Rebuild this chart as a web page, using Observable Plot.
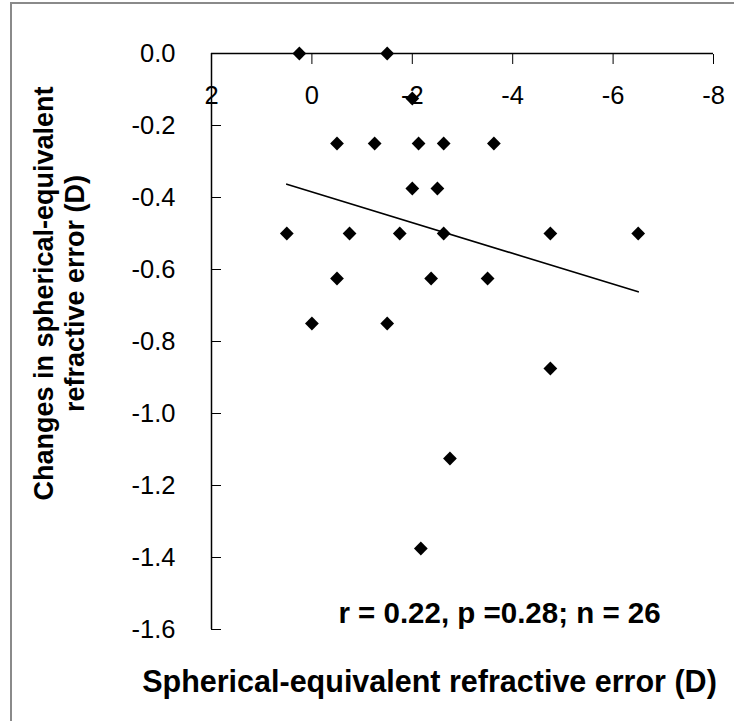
<!DOCTYPE html>
<html><head><meta charset="utf-8">
<script src="https://cdn.jsdelivr.net/npm/d3@7"></script>
<script src="https://cdn.jsdelivr.net/npm/@observablehq/plot@0.6"></script>
<style>
html,body{margin:0;padding:0;background:#fff;}
#wrap{position:relative;width:734px;height:721px;overflow:hidden;background:#fff;}
#wrap svg{position:absolute;left:0;top:0;}
#border{position:absolute;left:10px;top:2px;width:800px;height:800px;border-left:2px solid #8a8a8a;border-top:2px solid #8a8a8a;pointer-events:none;}
</style></head><body><div id="wrap"><div id="border"></div></div>
<script>
// Spherical-equivalent refractive error (D) for each subject
const refraction = [0.25, -1.5, -2.0, -0.5, -1.25, -2.125, -2.625, -3.625, -2.0, -2.5,
  0.5, -0.75, -1.75, -2.625, -4.75, -6.5, -0.5, -2.375, -3.5, 0, -1.5, -4.75, -2.75, -2.17];
// Change in spherical-equivalent refractive error (D)
const change = [0, 0, -0.125, -0.25, -0.25, -0.25, -0.25, -0.25, -0.375, -0.375,
  -0.5, -0.5, -0.5, -0.5, -0.5, -0.5, -0.625, -0.625, -0.625, -0.75, -0.75, -0.875, -1.125, -1.375];
// regression line end points as drawn
const trendX = [0.5, -6.5];
const trendY = [-0.363, -0.662];
const xTicks = [2, 0, -2, -4, -6, -8];
const yTicks = [0, -0.2, -0.4, -0.6, -0.8, -1.0, -1.2, -1.4, -1.6];
const xTitle = ["Spherical-equivalent refractive error (D)"];
const yTitle = ["Changes in spherical-equivalent\nrefractive error (D)"];
const statText = ["r = 0.22, p =0.28; n = 26"];

const points = refraction.map((x, i) => ({x, y: change[i]}));
const trend = trendX.map((x, i) => ({x, y: trendY[i]}));

const chart = Plot.plot({
  width: 734,
  height: 721,
  marginLeft: 211,
  marginRight: 21,
  marginTop: 53,
  marginBottom: 92,
  style: {fontFamily: "'Liberation Sans', Arial, sans-serif", background: "transparent", color: "#000"},
  x: {domain: [2, -8], axis: null},
  y: {domain: [-1.6, 0], axis: null},
  marks: [
    Plot.ruleY([0], {stroke: "#000", strokeWidth: 1.5}),
    Plot.ruleX([2], {stroke: "#000", strokeWidth: 1.5}),
    Plot.axisX(xTicks, {anchor: "top", tickSize: -10, tickPadding: -32, lineAnchor: "middle",
      tickFormat: d => String(d), fontSize: 25.5, stroke: "#000", fill: "#000", label: null}),
    Plot.axisY(yTicks, {anchor: "left", tickSize: -10, tickPadding: 46,
      tickFormat: d => d.toFixed(1), fontSize: 25.5, stroke: "#000", fill: "#000", label: null}),
    Plot.line(trend, {x: "x", y: "y", stroke: "#000", strokeWidth: 1.6}),
    Plot.dot(points, {x: "x", y: "y", symbol: "diamond2", r: 6.2, fill: "#000", stroke: "none"}),
    Plot.text(statText, {frameAnchor: "bottom", dx: 37, dy: -16, lineAnchor: "middle",
      fontSize: 29.5, fontWeight: "bold", fill: "#000"}),
    Plot.text(xTitle, {frameAnchor: "bottom", dx: -33, dy: 53, lineAnchor: "middle",
      fontSize: 30.5, fontWeight: "bold", fill: "#000"}),
    Plot.text(yTitle, {frameAnchor: "left", dx: -153, dy: -48, rotate: -90, lineAnchor: "middle",
      textAnchor: "middle", lineHeight: 1.15, fontSize: 27, fontWeight: "bold", fill: "#000"})
  ]
});
document.getElementById("wrap").insertBefore(chart, document.getElementById("border"));
</script>
</body></html>
